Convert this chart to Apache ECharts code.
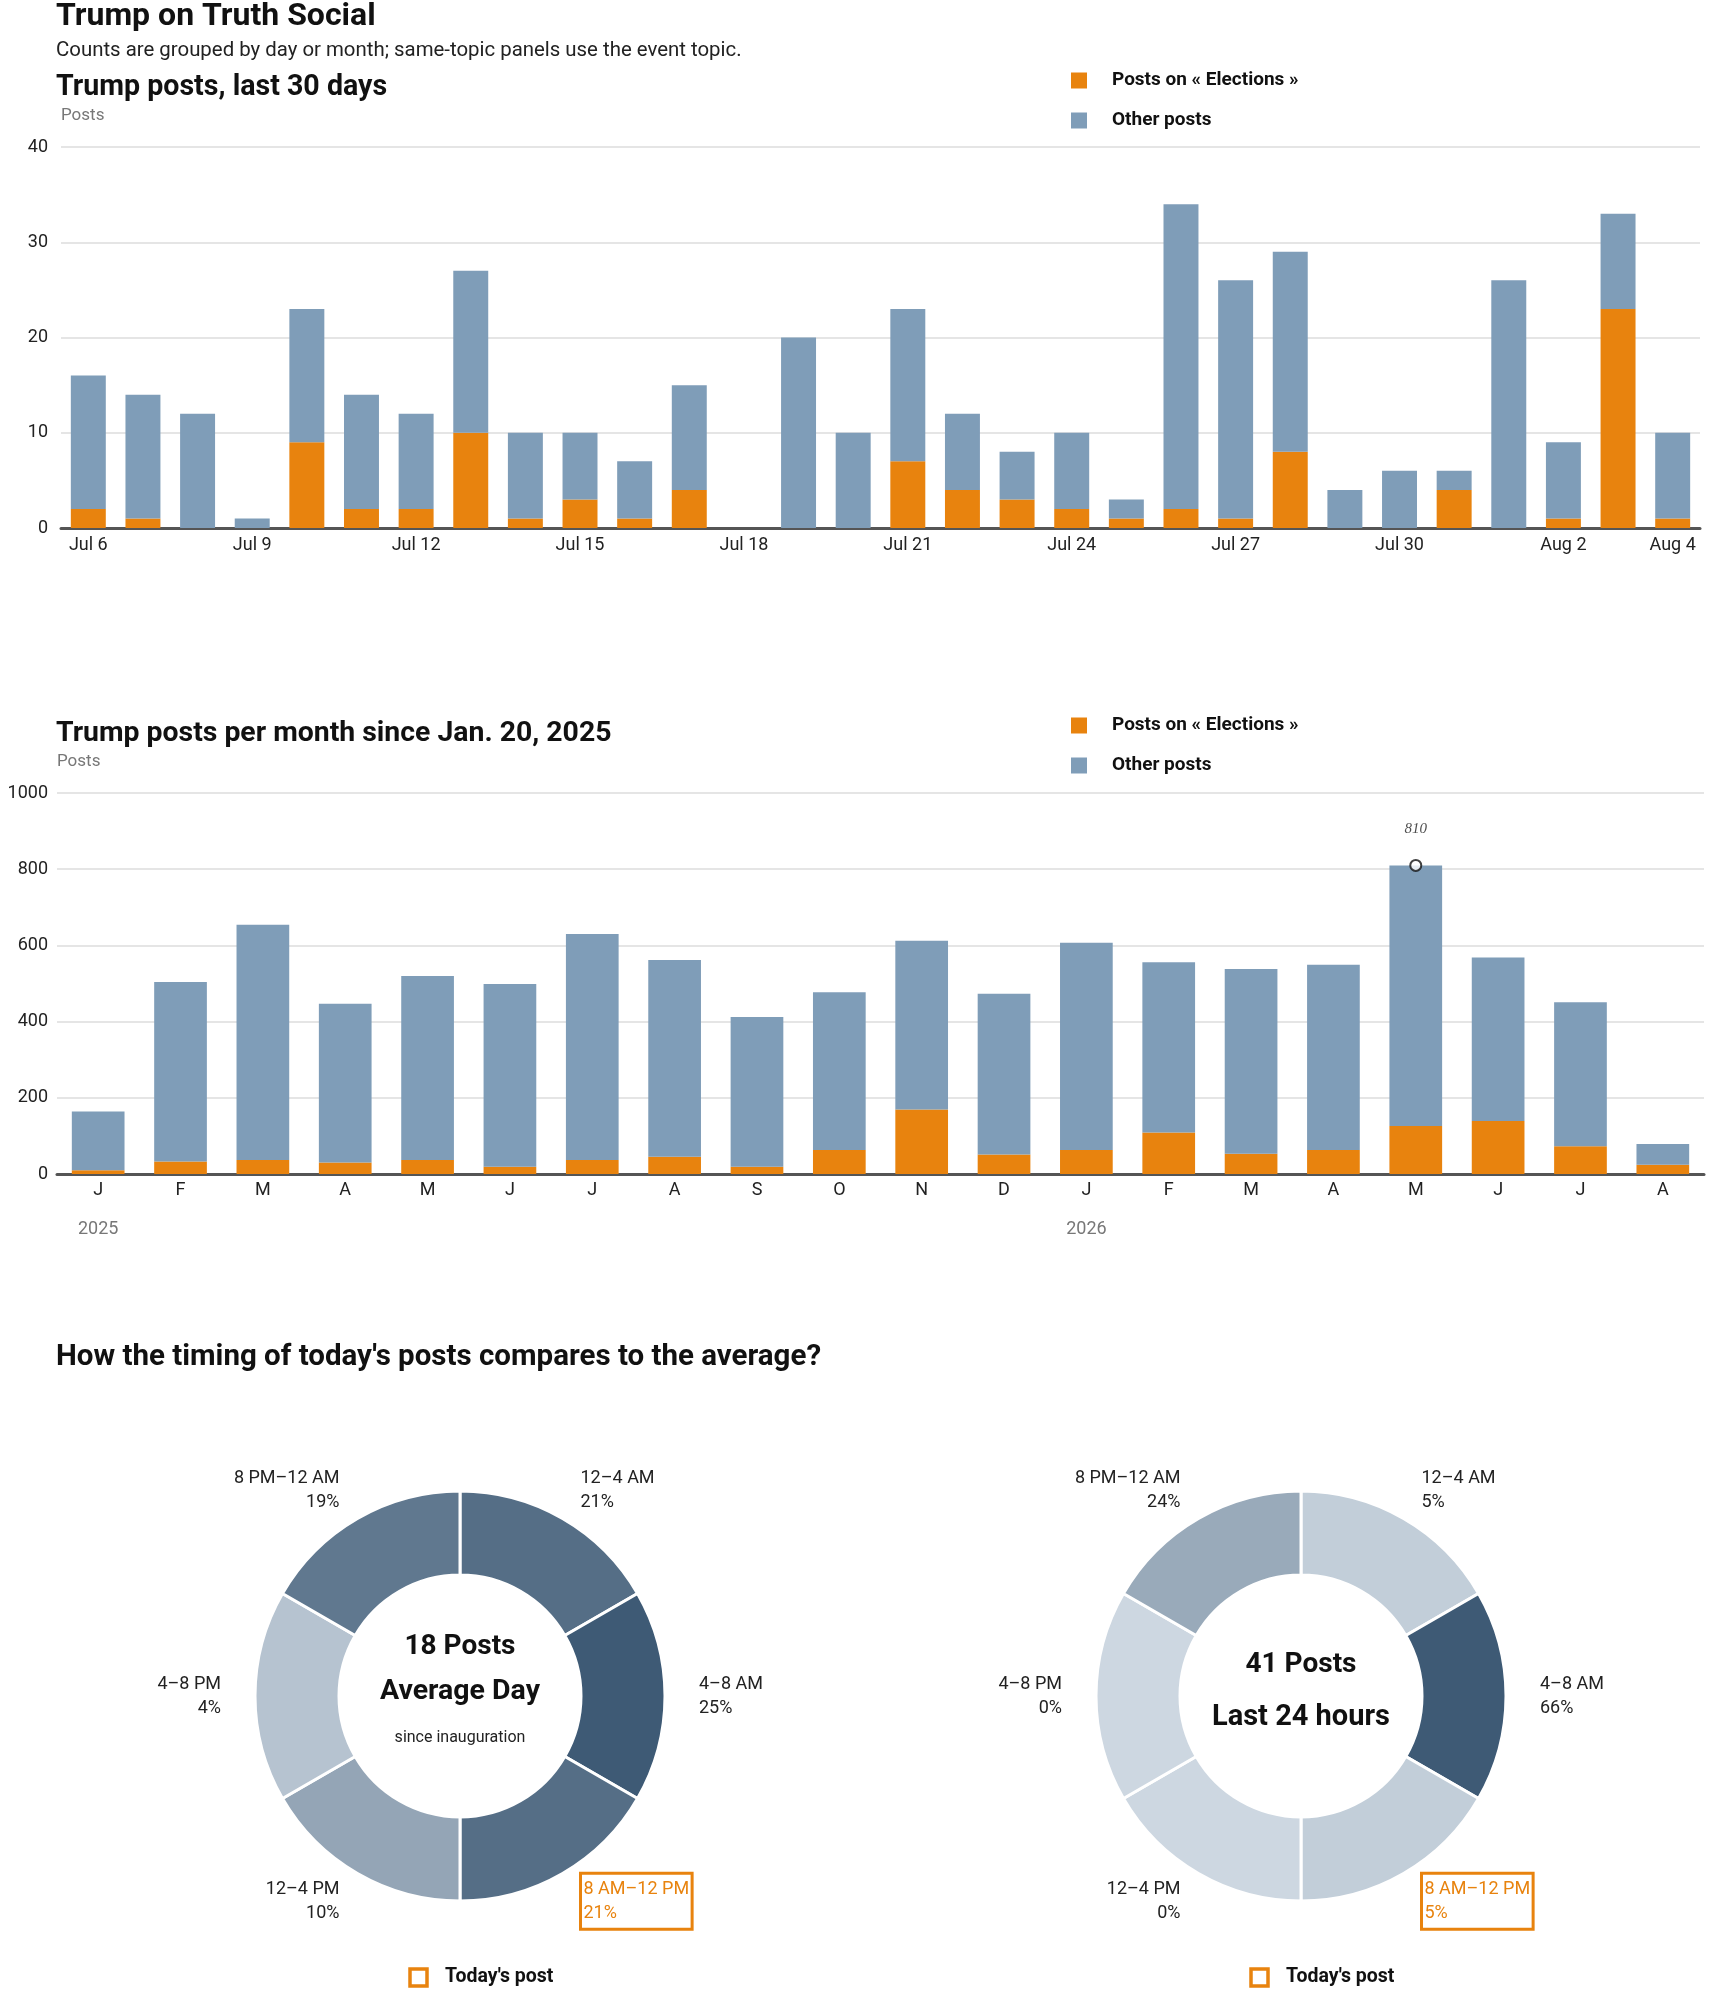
<!DOCTYPE html>
<html lang="en">
<head>
  <meta charset="UTF-8">
  <title>Trump on Truth Social</title>
  <script src="https://cdn.jsdelivr.net/npm/echarts@6/dist/echarts.min.js"></script>
  <style>
    html, body { margin: 0; padding: 0; background: #fff; overflow: hidden; }
    #main { width: 1710px; height: 1993px; }
  </style>
</head>
<body>
  <div id="main"></div>

  <script>
    // --- last 30 days ---
    var days = ['Jul 6', 'Jul 7', 'Jul 8', 'Jul 9', 'Jul 10', 'Jul 11', 'Jul 12', 'Jul 13', 'Jul 14', 'Jul 15',
      'Jul 16', 'Jul 17', 'Jul 18', 'Jul 19', 'Jul 20', 'Jul 21', 'Jul 22', 'Jul 23', 'Jul 24', 'Jul 25',
      'Jul 26', 'Jul 27', 'Jul 28', 'Jul 29', 'Jul 30', 'Jul 31', 'Aug 1', 'Aug 2', 'Aug 3', 'Aug 4']
    var dayElections = [2, 1, 0, 0, 9, 2, 2, 10, 1, 3, 1, 4, 0, 0, 0, 7, 4, 3, 2, 1, 2, 1, 8, 0, 0, 4, 0, 1, 23, 1]
    var dayOther = [14, 13, 12, 1, 14, 12, 10, 17, 9, 7, 6, 11, 0, 20, 10, 16, 8, 5, 8, 2, 32, 25, 21, 4, 6, 2, 26, 8, 10, 9]

    // --- per month since Jan. 20, 2025 ---
    var months = ['Jan 2025', 'Feb 2025', 'Mar 2025', 'Apr 2025', 'May 2025', 'Jun 2025', 'Jul 2025', 'Aug 2025',
      'Sep 2025', 'Oct 2025', 'Nov 2025', 'Dec 2025', 'Jan 2026', 'Feb 2026', 'Mar 2026', 'Apr 2026',
      'May 2026', 'Jun 2026', 'Jul 2026', 'Aug 2026']
    var monthElections = [10, 33, 37, 30, 37, 19, 37, 45, 19, 63, 169, 51, 63, 109, 53, 63, 126, 139, 73, 24]
    var monthOther = [154, 471, 617, 417, 483, 480, 593, 517, 393, 414, 443, 422, 544, 447, 485, 486, 684, 429, 378, 55]

    // --- time of day ---
    var timeSlots = ['12–4 AM', '4–8 AM', '8 AM–12 PM', '12–4 PM', '4–8 PM', '8 PM–12 AM']
    var slotHours = [4, 4, 4, 4, 4, 4]
    var avgShare = [21, 25, 21, 10, 4, 19]
    var todayShare = [5, 66, 5, 0, 0, 24]
    var avgPosts = 18
    var todayPosts = 41
    var todaySlot = 2

    var nameElections = 'Posts on « Elections »'
    var nameOther = 'Other posts'
    var orange = '#e8830e'
    var blue = '#7f9db8'
    var font = 'Roboto, "Noto Sans", sans-serif'

    var mCharts = echarts.init(document.getElementById('main'))

    // peak month, marked with its total
    var monthTotal = monthElections.map(function (v, i) { return v + monthOther[i] })
    var peakIdx = monthTotal.indexOf(Math.max.apply(null, monthTotal))

    // slice shade: light -> dark by share of the largest slot
    function shade(share, list) {
      var t = share / Math.max.apply(null, list)
      var lo = [205, 215, 225], hi = [62, 90, 117]
      var c = lo.map(function (l, k) { return Math.round(l + (hi[k] - l) * t) })
      return 'rgb(' + c.join(',') + ')'
    }

    function pieData(shares) {
      return timeSlots.map(function (slot, i) {
        var item = { name: slot, value: slotHours[i], itemStyle: { color: shade(shares[i], shares) } }
        if (i === todaySlot) {
          item.label = { color: orange, borderColor: orange, borderWidth: 3, padding: [5, 3, 3, 3] }
        }
        return item
      })
    }

    function donut(cx, shares) {
      return {
        type: 'pie',
        center: [cx, 1696],
        radius: [121, 205],
        startAngle: 90,
        clockwise: true,
        avoidLabelOverlap: false,
        silent: true,
        emphasis: { disabled: true },
        itemStyle: { borderColor: '#fff', borderWidth: 3 },
        label: {
          show: true,
          position: 'outside',
          distanceToLabelLine: 2,
          fontFamily: font,
          fontSize: 18,
          lineHeight: 24,
          color: '#222',
          formatter: function (p) { return p.name + '\n' + shares[p.dataIndex] + '%' }
        },
        labelLine: { show: false, length: 32, length2: 0 },
        data: pieData(shares)
      }
    }

    function txt(x, y, text, size, weight, color, align) {
      return {
        type: 'text', x: x, y: y, silent: true,
        style: {
          text: text, fill: color || '#111',
          fontFamily: font, fontSize: size, fontWeight: weight || 'bold',
          align: align || 'left', textAlign: align || 'left',
          verticalAlign: 'middle', textVerticalAlign: 'middle'
        }
      }
    }

    function legendBox(top) {
      return {
        orient: 'vertical',
        left: 1071,
        top: top,
        padding: 0,
        itemWidth: 16,
        itemHeight: 16,
        itemGap: 21,
        icon: 'rect',
        selectedMode: false,
        data: [nameElections, nameOther],
        textStyle: { fontFamily: font, fontWeight: 'bold', fontSize: 19, color: '#111', padding: [0, 0, 0, 20] }
      }
    }

    function yAxisOf(grid, max, step, margin) {
      return {
        type: 'value', gridIndex: grid, min: 0, max: max, interval: step,
        name: 'Posts', nameLocation: 'end', nameGap: 31,
        nameTextStyle: { align: 'left', verticalAlign: 'middle', color: '#777', fontSize: 17, fontFamily: font },
        axisLine: { show: false },
        axisTick: { show: false },
        axisLabel: {
          color: '#222', fontSize: 18, fontFamily: font, margin: margin,
          formatter: function (v) { return String(v) }
        },
        splitLine: { lineStyle: { color: '#dcdcdc', width: 1.5 } }
      }
    }

    var option = {
      animation: false,
      textStyle: { fontFamily: font },
      grid: [
        { left: 61, right: 10, top: 147, height: 381 },
        { left: 57, right: 6, top: 793, height: 381 }
      ],
      legend: [legendBox(71), legendBox(716)],
      xAxis: [
        {
          type: 'category', gridIndex: 0, data: days,
          axisTick: { show: false },
          axisLine: { lineStyle: { color: '#555', width: 3 } },
          axisLabel: {
            color: '#222', fontSize: 18, fontFamily: font, margin: 8,
            interval: function (i) { return i % 3 === 0 || i === days.length - 1 }
          }
        },
        {
          type: 'category', gridIndex: 1, data: months,
          axisTick: { show: false },
          axisLine: { lineStyle: { color: '#555', width: 3 } },
          axisLabel: {
            interval: 0, margin: 6,
            formatter: function (v) {
              var p = v.split(' ')
              return '{m|' + p[0].charAt(0) + '}' + (p[0] === 'Jan' ? '\n{y|' + p[1] + '}' : '')
            },
            rich: {
              m: { color: '#222', fontSize: 18, fontFamily: font, lineHeight: 20 },
              y: { color: '#777', fontSize: 18, fontFamily: font, lineHeight: 58 }
            }
          }
        }
      ],
      yAxis: [yAxisOf(0, 40, 10, 13), yAxisOf(1, 1000, 200, 9)],
      series: [
        { name: nameElections, type: 'bar', stack: 'd', xAxisIndex: 0, yAxisIndex: 0, barWidth: '64%', itemStyle: { color: orange }, data: dayElections },
        { name: nameOther, type: 'bar', stack: 'd', xAxisIndex: 0, yAxisIndex: 0, barWidth: '64%', itemStyle: { color: blue }, data: dayOther },
        { name: nameElections, type: 'bar', stack: 'm', xAxisIndex: 1, yAxisIndex: 1, barWidth: '64%', itemStyle: { color: orange }, data: monthElections },
        { name: nameOther, type: 'bar', stack: 'm', xAxisIndex: 1, yAxisIndex: 1, barWidth: '64%', itemStyle: { color: blue }, data: monthOther },
        {
          type: 'scatter', xAxisIndex: 1, yAxisIndex: 1, silent: true, z: 5,
          symbol: 'emptyCircle', symbolSize: 11,
          itemStyle: { color: '#111', borderWidth: 2 },
          label: {
            show: true, position: 'top', distance: 22,
            fontFamily: '"Liberation Serif", serif', fontStyle: 'italic', fontSize: 15, color: '#222',
            formatter: function (p) { return p.value[1] }
          },
          data: [[peakIdx, monthTotal[peakIdx]]]
        },
        donut(460, avgShare),
        donut(1301, todayShare)
      ],
      graphic: [
        txt(56, 17, 'Trump on Truth Social', 32),
        txt(56, 51, 'Counts are grouped by day or month; same-topic panels use the event topic.', 20.4, 'normal', '#222'),
        txt(56, 88, 'Trump posts, last 30 days', 28.6),
        txt(56, 734, 'Trump posts per month since Jan. 20, 2025', 28.4),
        txt(56, 1358, "How the timing of today's posts compares to the average?", 29.5),
        txt(460, 1647, avgPosts + ' Posts', 28, 'bold', '#111', 'center'),
        txt(460, 1692, 'Average Day', 28.5, 'bold', '#111', 'center'),
        txt(460, 1738, 'since inauguration', 16, 'normal', '#222', 'center'),
        txt(1301, 1665, todayPosts + ' Posts', 28, 'bold', '#111', 'center'),
        txt(1301, 1718, 'Last 24 hours', 29, 'bold', '#111', 'center'),
        { type: 'rect', shape: { x: 410, y: 1969, width: 17, height: 17 }, style: { fill: 'none', stroke: orange, lineWidth: 3.5 } },
        txt(445, 1977, "Today's post", 19.5),
        { type: 'rect', shape: { x: 1251, y: 1969, width: 17, height: 17 }, style: { fill: 'none', stroke: orange, lineWidth: 3.5 } },
        txt(1286, 1977, "Today's post", 19.5)
      ]
    }
    mCharts.setOption(option)
  </script>
</body>
</html>
